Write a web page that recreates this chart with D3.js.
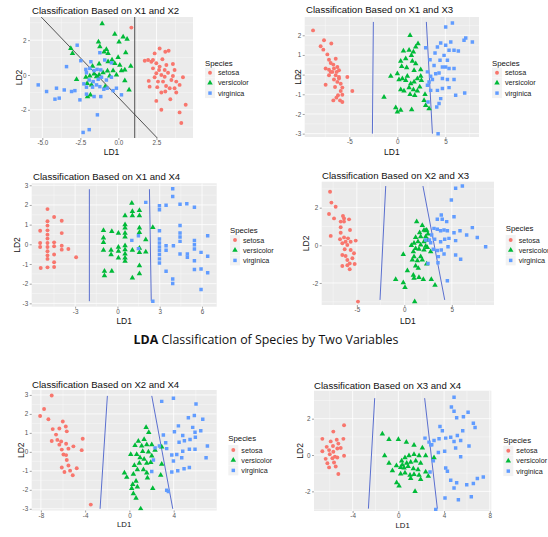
<!DOCTYPE html>
<html>
<head>
<meta charset="utf-8">
<script src="https://cdn.jsdelivr.net/npm/d3@7"></script>
<style>
  html, body { margin: 0; padding: 0; background: #fff; }
  svg { display: block; }
</style>
</head>
<body>
<svg id="chart" width="548" height="537"></svg>
<script>
// ---- Species and colours ----
const species = ["setosa", "versicolor", "virginica"];
const speciesColors = ["#F8766D", "#00BA38", "#619CFF"];

// ---- LD1 / LD2 scores, pair X1 & X2 ----
const p1Setosa = [[0.85,2.72],[2.71,1.52],[3.08,1.33],[3.30,1.39],[2.38,1.24],[2.89,0.90],[1.73,0.82],[1.95,0.86],[2.16,0.76],[2.49,0.67],[3.15,0.57],[3.58,0.63],[2.27,0.38],[2.67,0.29],[3.26,0.13],[3.69,0.29],[2.49,0.10],[2.82,0.0],[3.04,-0.10],[2.38,-0.13],[2.93,-0.38],[2.60,-0.38],[3.48,-0.29],[3.80,-0.38],[4.24,-0.13],[1.99,-0.34],[2.05,-0.67],[3.69,-0.76],[2.82,-1.01],[3.08,-0.95],[3.80,-1.01],[3.41,-1.39],[2.49,-1.49],[2.82,-2.00],[4.02,-2.15],[4.42,-1.71],[4.13,-2.76],[3.58,-0.06],[3.04,0.29],[2.71,0.48],[3.13,-0.63],[4.02,-0.57],[2.27,0.86],[3.37,-0.76],[2.55,-0.70]];
const p1Versicolor = [[-1.07,2.95],[-0.24,2.34],[0.31,2.19],[0.04,1.90],[0.57,2.06],[-1.31,1.90],[-3.13,1.52],[-3.02,1.24],[-1.22,1.62],[-0.79,1.47],[-0.94,1.33],[-0.68,1.24],[0.48,1.28],[-0.02,1.01],[-0.42,0.86],[-0.68,0.76],[-1.27,0.63],[-1.70,0.51],[-0.24,0.67],[0.09,0.57],[0.81,0.51],[0.42,0.29],[0.20,0.25],[-0.72,0.23],[-1.01,0.13],[-1.27,0.0],[-1.60,0.06],[-1.88,-0.06],[-2.14,-0.13],[-2.75,-0.25],[-2.05,-0.48],[-1.77,-0.57],[-2.03,-1.24],[-1.84,-1.14],[0.42,-0.32],[0.70,-0.86],[-0.87,-0.67],[-0.35,0.25],[-0.57,-0.06],[-1.44,-0.10],[-0.13,0.0]];
const p1Virginica = [[-2.71,1.71],[-2.47,0.82],[-3.41,0.48],[-1.81,0.76],[-1.22,1.28],[-2.14,0.32],[-1.88,0.38],[-2.10,0.13],[-1.60,0.25],[-1.40,0.32],[-1.16,0.29],[-0.90,0.86],[-0.46,0.70],[-1.92,-0.29],[-2.27,-0.51],[-1.66,-0.38],[-1.44,-0.57],[-2.10,-0.70],[-1.70,-0.70],[-1.22,-0.67],[-0.96,-0.82],[-0.74,-0.76],[-0.35,-0.90],[-0.13,-0.76],[0.20,-1.14],[-2.10,-1.10],[-1.60,-1.24],[-1.16,-1.24],[-2.53,-1.43],[-3.08,-0.95],[-2.86,-0.90],[-3.56,-0.86],[-4.07,-0.76],[-4.72,-0.95],[-5.27,-0.57],[-4.17,-1.39],[-3.89,-1.33],[-1.38,-2.29],[-1.92,-3.14],[-2.32,-3.30],[-1.11,-0.13],[-0.79,-0.29],[-1.33,-0.25],[-0.46,-0.13]];
const p1Bounds = [[[1.07,3.4],[1.07,-3.7]], [[-5.15,3.4],[2.64,-3.7]]];

// ---- pair X1 & X3 ----
const p2Setosa = [[-8.78,2.25],[-7.64,1.75],[-7.99,1.44],[-7.71,1.27],[-6.88,1.58],[-7.29,1.03],[-7.12,0.76],[-6.42,0.81],[-6.94,0.59],[-6.67,0.51],[-7.47,0.31],[-7.12,0.25],[-6.60,0.31],[-6.25,0.39],[-6.77,0.14],[-6.32,0.14],[-6.08,0.22],[-6.42,-0.03],[-6.08,-0.12],[-5.21,-0.12],[-6.60,-0.25],[-6.25,-0.37],[-7.47,-0.51],[-6.49,-0.63],[-5.73,-0.66],[-5.90,-0.83],[-4.69,-0.83],[-6.18,-1.05],[-6.35,-1.17],[-5.73,-1.02],[-6.67,-1.31],[-5.97,-1.31],[-5.73,-1.39],[-6.94,0.14],[-6.08,-0.20],[-5.90,-0.46],[-7.12,-0.03]];
const p2Versicolor = [[1.32,2.00],[2.15,1.58],[1.91,1.41],[1.67,1.15],[1.22,1.24],[0.63,1.20],[1.46,0.98],[0.87,0.81],[0.35,0.69],[1.56,0.69],[0.45,0.42],[0.97,0.36],[2.43,0.25],[1.74,0.22],[-0.69,-0.08],[0.52,-0.20],[1.04,-0.08],[2.08,-0.20],[2.43,-0.08],[0.17,-0.25],[0.87,-0.29],[1.39,-0.46],[1.74,-0.37],[2.33,-0.63],[0.35,-0.76],[0.69,-0.83],[1.22,-0.66],[1.67,-0.76],[2.08,-0.83],[-1.39,-1.14],[1.32,-1.00],[1.81,-1.05],[2.78,-1.31],[2.88,-1.00],[-0.17,-1.68],[0.35,-1.81],[0.0,-1.90],[1.49,-1.78],[3.30,-1.73],[2.95,-1.56],[2.50,-0.29],[1.91,0.56],[0.0,0.05]];
const p2Virginica = [[2.95,1.37],[3.92,1.10],[3.40,0.76],[3.82,0.47],[4.44,0.73],[5.03,1.49],[5.56,1.66],[5.90,1.24],[6.35,1.20],[5.03,2.42],[5.73,2.63],[6.94,1.75],[7.12,1.86],[7.81,1.66],[4.86,0.98],[5.21,0.73],[4.69,0.39],[5.03,0.39],[5.38,0.31],[5.90,0.31],[3.13,0.14],[3.47,-0.08],[3.99,0.05],[4.34,0.08],[3.30,-0.37],[3.65,-0.25],[4.69,-0.20],[5.21,-0.25],[5.90,-0.25],[4.17,-0.80],[4.69,-0.71],[3.47,-0.80],[5.38,-0.66],[6.07,-1.05],[7.01,-0.93],[4.51,-1.22],[4.34,-1.47],[4.10,-1.64],[4.24,-3.00],[3.19,-1.39],[4.51,1.61],[4.17,1.41],[5.38,1.24],[3.13,-0.54]];
const p2Bounds = [[[-2.50,2.68],[-2.60,-3.00]], [[3.02,2.68],[3.65,-3.00]]];

// ---- pair X1 & X4 ----
const p3Setosa = [[-5.48,0.69],[-5.48,0.07],[-5.48,-0.14],[-5.44,-1.20],[-4.96,1.79],[-4.96,1.17],[-4.96,0.95],[-4.96,0.71],[-4.96,0.49],[-4.96,0.29],[-4.96,0.07],[-4.96,-0.14],[-4.96,-0.35],[-4.96,-0.56],[-4.96,-0.74],[-4.96,-1.17],[-4.49,1.39],[-4.49,0.10],[-4.49,-0.10],[-4.49,-0.52],[-4.49,-0.91],[-4.49,-1.15],[-3.95,1.20],[-3.95,0.57],[-3.95,-0.07],[-3.95,-0.27],[-3.48,-0.24],[-2.93,-0.66]];
const p3Versicolor = [[1.02,2.09],[1.06,1.67],[1.56,1.72],[1.06,1.45],[1.56,1.45],[0.54,1.45],[0.54,1.00],[0.54,0.83],[0.54,0.57],[0.54,0.37],[1.56,0.83],[1.56,0.61],[0.07,0.57],[-0.40,0.66],[-0.99,0.71],[-0.99,0.32],[-0.99,0.10],[-0.99,-0.30],[-0.45,-0.30],[-0.45,-0.52],[0.07,-0.14],[0.07,-0.35],[0.07,-0.69],[0.54,-0.07],[0.54,-0.27],[0.54,-0.49],[0.54,-0.69],[0.54,-0.86],[1.06,-0.30],[1.56,-0.19],[1.56,-0.41],[2.01,0.24],[2.01,-0.39],[2.51,0.86],[1.56,-1.08],[1.56,-1.49],[1.06,-1.71],[-0.92,-1.37],[-0.92,-1.59],[-0.40,-1.37]];
const p3Virginica = [[2.01,2.13],[2.98,1.96],[2.98,1.76],[3.45,1.98],[3.92,2.82],[3.92,2.43],[4.44,2.04],[4.92,2.06],[5.46,1.88],[4.44,0.96],[4.44,0.57],[4.44,0.37],[4.44,0.15],[1.49,0.44],[1.02,0.20],[2.98,0.69],[2.98,0.27],[2.98,0.07],[2.98,-0.14],[2.98,-0.32],[2.98,-0.52],[2.98,-0.74],[2.98,-0.95],[3.45,-0.07],[3.45,-0.30],[3.97,-0.07],[4.44,-0.49],[4.96,-0.49],[4.96,-0.66],[5.46,0.19],[5.46,-0.02],[5.46,-0.24],[5.46,-0.83],[5.46,-1.28],[5.93,-0.41],[5.93,-1.25],[6.40,0.44],[6.40,-0.61],[6.40,-1.45],[3.45,-1.37],[3.92,-1.76],[3.92,-1.99],[5.93,-2.30],[1.49,-0.22],[2.51,-2.89]];
const p3Bounds = [[[-1.99,2.80],[-1.99,-2.89]], [[2.27,2.80],[2.40,-2.89]]];

// ---- pair X2 & X3 ----
const p4Setosa = [[-7.82,2.85],[-7.68,2.27],[-7.23,2.05],[-7.93,1.66],[-7.40,1.43],[-6.46,1.56],[-5.82,1.38],[-6.70,1.26],[-6.35,1.26],[-6.70,0.96],[-7.75,0.50],[-6.70,0.67],[-6.35,0.42],[-5.93,0.37],[-5.12,0.25],[-6.77,0.32],[-6.18,0.19],[-5.65,0.19],[-6.53,0.11],[-6.00,0.02],[-6.28,-0.21],[-5.65,-0.25],[-6.53,-0.51],[-6.18,-0.57],[-5.47,-0.69],[-5.30,-0.42],[-6.00,-0.78],[-5.75,-0.96],[-6.53,-1.10],[-6.00,-1.06],[-5.75,-1.27],[-5.23,-0.99],[-4.88,-2.99],[-6.35,1.43],[-5.72,0.81]];
const p4Versicolor = [[1.30,1.26],[1.89,1.06],[2.25,0.78],[2.07,0.81],[2.35,0.81],[1.61,0.67],[2.49,0.60],[1.19,0.42],[1.72,0.46],[2.25,0.46],[2.49,0.28],[1.44,0.19],[2.07,0.19],[1.02,0.11],[0.74,0.0],[1.72,0.02],[2.25,-0.04],[1.19,-0.16],[1.54,-0.21],[2.07,-0.25],[2.77,-0.34],[0.95,-0.34],[-0.11,-0.48],[1.02,-0.60],[1.72,-0.60],[1.37,-0.81],[0.84,-0.78],[1.89,-0.78],[2.35,-0.99],[1.19,-1.10],[1.47,-1.22],[0.32,-1.35],[0.95,-1.58],[1.54,-1.70],[1.02,-1.75],[-0.91,-1.81],[-0.11,-1.98],[0.07,-2.23],[2.00,-1.81],[2.84,-1.81],[3.23,-2.11],[1.09,-2.99],[2.42,-0.11]];
const p4Virginica = [[5.40,3.03],[6.11,3.15],[4.95,2.41],[3.89,1.61],[3.47,1.38],[3.99,1.38],[4.46,1.26],[5.23,1.52],[3.12,0.90],[3.47,0.85],[3.82,0.78],[4.18,0.81],[4.53,0.78],[5.23,0.67],[5.86,0.78],[7.16,0.94],[2.88,0.55],[3.19,0.32],[2.63,0.28],[3.82,0.19],[4.25,0.32],[4.70,0.37],[5.40,0.25],[6.56,0.55],[7.68,0.42],[8.56,-0.07],[3.05,-0.21],[3.47,-0.28],[3.89,-0.25],[4.60,-0.07],[5.40,-0.51],[5.93,-0.74],[3.58,-0.60],[4.18,-0.46],[4.53,-1.88],[2.49,-0.96],[3.54,-0.92],[2.77,0.14],[2.25,0.28]];
const p4Bounds = [[[-1.96,3.15],[-2.56,-2.90]], [[1.96,3.15],[4.25,-2.90]]];

// ---- pair X2 & X4 ----
const p5Setosa = [[-7.02,2.97],[-7.71,2.26],[-7.32,1.72],[-8.07,1.89],[-6.02,1.60],[-6.33,1.23],[-5.75,1.34],[-6.93,1.20],[-5.66,1.08],[-6.63,0.91],[-4.22,0.69],[-7.02,0.57],[-6.51,0.63],[-6.17,0.55],[-6.33,0.38],[-5.72,0.43],[-5.06,0.29],[-5.51,0.17],[-4.31,0.09],[-6.11,0.12],[-5.96,-0.14],[-5.66,-0.43],[-5.51,-0.72],[-6.11,-0.82],[-5.87,-1.06],[-5.36,-0.99],[-4.76,-0.86],[-5.12,-1.23],[-3.49,-2.78],[-5.72,-0.17]];
const p5Versicolor = [[1.51,1.29],[1.75,1.03],[0.81,0.57],[1.33,0.65],[0.51,0.34],[1.11,0.31],[1.57,0.38],[2.02,0.38],[0.12,-0.14],[0.66,-0.14],[1.20,0.03],[1.72,0.0],[2.02,-0.21],[0.96,-0.31],[1.33,-0.38],[0.90,-0.60],[0.45,-0.72],[1.57,-0.60],[1.93,-0.55],[2.92,-0.65],[0.72,-0.94],[1.27,-0.94],[0.36,-1.17],[1.57,-1.11],[-0.45,-1.11],[-0.24,-1.34],[2.83,-1.23],[0.60,-1.54],[0.30,-1.72],[0.72,-1.85],[0.21,-1.92],[2.11,-1.92],[1.63,-1.37],[0.36,-2.20],[0.60,-2.44],[1.02,-3.00],[2.92,0.26],[2.32,0.09]];
const p5Virginica = [[3.98,2.83],[2.92,2.66],[6.02,2.52],[5.33,1.80],[5.87,1.92],[6.63,1.72],[4.43,1.37],[5.72,1.29],[6.45,1.11],[5.93,1.03],[3.07,0.89],[4.07,1.06],[4.82,0.86],[5.96,0.77],[4.49,0.51],[4.97,0.58],[5.48,0.65],[7.05,0.31],[2.32,0.21],[2.71,0.31],[3.37,0.17],[3.28,0.48],[3.83,-0.17],[4.28,-0.14],[4.82,0.03],[5.42,0.14],[5.93,0.14],[6.93,-0.31],[4.73,-0.31],[3.98,-0.48],[2.17,-0.43],[2.02,-1.03],[3.83,-1.06],[4.37,-0.99],[4.94,-0.89],[5.42,-0.82],[3.37,-2.02],[3.52,-2.09]];
const p5Bounds = [[[-1.99,2.95],[-2.65,-3.00]], [[2.02,2.95],[3.92,-3.00]]];

// ---- pair X3 & X4 ----
const p6Setosa = [[-4.75,1.64],[-5.69,1.29],[-6.65,0.89],[-6.27,0.45],[-5.92,0.75],[-5.39,0.84],[-4.81,0.89],[-5.72,0.50],[-5.25,0.63],[-5.04,0.39],[-6.06,0.27],[-6.65,0.21],[-5.69,0.18],[-5.34,0.36],[-6.00,0.04],[-4.75,-0.04],[-5.55,-0.09],[-5.77,-0.18],[-6.21,-0.45],[-5.34,-0.14],[-5.63,-0.41],[-5.48,-0.63],[-6.06,-0.68],[-5.25,-1.04],[-6.36,-0.21]];
const p6Versicolor = [[-1.40,1.16],[-0.82,0.86],[0.0,0.86],[0.70,0.71],[1.37,0.54],[2.10,0.39],[-1.20,-0.04],[-0.82,-0.45],[-0.52,-0.86],[-0.17,-0.59],[0.29,-0.32],[0.58,-0.14],[0.93,-0.04],[1.37,0.04],[1.81,-0.04],[2.39,-0.04],[0.35,-0.54],[0.73,-0.45],[1.08,-0.39],[1.52,-0.32],[1.95,-0.45],[0.50,-0.71],[0.85,-0.63],[1.31,-0.75],[1.72,-0.80],[0.20,-1.04],[0.58,-0.98],[1.02,-1.11],[1.37,-1.07],[1.81,-1.11],[2.39,-0.93],[2.62,-1.16],[1.08,-1.29],[-0.15,-1.52],[0.06,-1.70],[1.46,-2.00],[1.95,-1.34],[3.12,-0.14],[0.20,-0.68]];
const p6Virginica = [[4.87,3.18],[4.64,2.64],[4.87,2.41],[5.10,2.05],[5.69,2.11],[6.10,2.36],[3.64,1.57],[6.56,1.75],[6.71,1.52],[3.85,1.34],[5.63,1.34],[3.12,0.80],[3.56,0.89],[4.14,0.93],[4.58,0.98],[5.16,1.07],[4.87,0.75],[5.45,0.80],[6.18,0.50],[2.33,0.93],[2.68,0.71],[2.92,0.57],[3.50,0.14],[4.05,0.21],[5.01,0.39],[5.45,-0.09],[3.06,-0.32],[4.14,-0.71],[4.29,-0.89],[4.58,-1.39],[5.10,-1.52],[5.98,-1.64],[6.56,-1.57],[6.91,-1.29],[7.43,-1.21],[4.87,-1.82],[4.08,-2.36],[5.25,-2.46],[6.38,-2.29],[2.77,-0.93],[3.27,-3.00],[2.83,0.57]];
const p6Bounds = [[[-2.07,3.13],[-2.62,-2.95]], [[2.30,3.13],[3.41,-2.95]]];

// ---- Panel titles and tick values ----
const panelTitles = ["Classification Based on X1 and X2", "Classification Based on X1 and X3",
                     "Classification Based on X1 and X4", "Classification Based on X2 and X3",
                     "Classification Based on X2 and X4", "Classification Based on X3 and X4"];
const xTicks = [[-5, -2.5, 0, 2.5], [-5, 0, 5], [-3, 0, 3, 6], [-5, 0, 5], [-8, -4, 0, 4], [-4, 0, 4, 8]];
const yTicks = [[-2, 0, 2], [-3, -2, -1, 0, 1, 2], [-3, -2, -1, 0, 1, 2, 3], [-2, 0, 2], [-3, -2, -1, 0, 1, 2, 3], [-2, 0, 2]];
const mainTitleBold = "LDA";
const mainTitleRest = " Classification of Species by Two Variables";

// ---- Panel layout (plot box in px, axis domains, label anchors) ----
const panels = [
  { data: [p1Setosa, p1Versicolor, p1Virginica], bounds: p1Bounds, boundColor: "#2a2a2a",
    box: [30, 17, 193, 138], xd: [-5.81, 4.90], yd: [-3.62, 3.33], xfmt: ".1f",
    title: [32, 14], ylab: 19, xlab: 155, xlabSize: 8.5, legend: [205, 65.5, 72.7] },
  { data: [p2Setosa, p2Versicolor, p2Virginica], bounds: p2Bounds, boundColor: "#5a6fcf",
    box: [304.7, 17, 479, 137], xd: [-9.65, 8.5], yd: [-3.17, 2.93], xfmt: "d",
    title: [306, 13], ylab: 298, xlab: 155, xlabSize: 8.5, legend: [492, 65.5, 72.7] },
  { data: [p3Setosa, p3Versicolor, p3Virginica], bounds: p3Bounds, boundColor: "#5a6fcf",
    box: [31.7, 183.3, 216.7, 306.7], xd: [-6.08, 7.04], yd: [-3.17, 3.1], xfmt: "d",
    title: [33, 179.5], ylab: 17, xlab: 323.5, xlabSize: 8.5, legend: [230, 233, 240] },
  { data: [p4Setosa, p4Versicolor, p4Virginica], bounds: p4Bounds, boundColor: "#5a6fcf",
    box: [321.7, 181.7, 494, 305], xd: [-8.7, 9.44], yd: [-3.17, 3.38], xfmt: "d",
    title: [322, 179], ylab: 306, xlab: 324, xlabSize: 8.5, legend: [505.7, 230.5, 240] },
  { data: [p5Setosa, p5Versicolor, p5Virginica], bounds: p5Bounds, boundColor: "#5a6fcf",
    box: [31.7, 390, 216.7, 510.5], xd: [-8.83, 7.89], yd: [-3.09, 3.26], xfmt: "d",
    title: [32, 387.5], ylab: 21, xlab: 526.5, xlabSize: 7.8, legend: [228.3, 440.5, 450] },
  { data: [p6Setosa, p6Versicolor, p6Virginica], bounds: p6Bounds, boundColor: "#5a6fcf",
    box: [314, 390.7, 491.3, 511], xd: [-7.38, 8.13], yd: [-3.08, 3.54], xfmt: "d",
    title: [314, 388.5], ylab: 300, xlab: 528, xlabSize: 7.8, legend: [503.3, 443, 450.7] }
];

const svg = d3.select("#chart");
svg.append("rect").attr("width", 548).attr("height", 537).attr("fill", "#fff");

const shapes = [d3.symbolCircle, d3.symbolTriangle, d3.symbolSquare];
const shapeSizes = [12, 13, 12];
const fontR = "'Liberation Sans', Arial, sans-serif";
const dash = s => s.replace("\u2212", "-");

panels.forEach((p, i) => {
  const [x0, y0, x1, y1] = p.box;
  const x = d3.scaleLinear().domain(p.xd).range([x0, x1]);
  const y = d3.scaleLinear().domain(p.yd).range([y1, y0]);
  const g = svg.append("g");
  const clipId = "clip" + i;
  g.append("clipPath").attr("id", clipId)
    .append("rect").attr("x", x0).attr("y", y0).attr("width", x1 - x0).attr("height", y1 - y0);

  // panel background
  g.append("rect").attr("x", x0).attr("y", y0).attr("width", x1 - x0).attr("height", y1 - y0)
    .attr("fill", "#EBEBEB");

  // minor grid lines halfway between major ticks
  const xt = xTicks[i], yt = yTicks[i];
  const minor = (t, dom) => {
    const step = t[1] - t[0];
    const out = [];
    for (let v = t[0] - step / 2; v <= dom[1]; v += step) if (v >= dom[0]) out.push(v);
    return out;
  };
  const grid = g.append("g").attr("clip-path", `url(#${clipId})`);
  minor(xt, p.xd).forEach(v => grid.append("line").attr("x1", x(v)).attr("x2", x(v))
    .attr("y1", y0).attr("y2", y1).attr("stroke", "#fff").attr("stroke-width", 0.35));
  minor(yt, p.yd).forEach(v => grid.append("line").attr("y1", y(v)).attr("y2", y(v))
    .attr("x1", x0).attr("x2", x1).attr("stroke", "#fff").attr("stroke-width", 0.35));
  xt.forEach(v => grid.append("line").attr("x1", x(v)).attr("x2", x(v))
    .attr("y1", y0).attr("y2", y1).attr("stroke", "#fff").attr("stroke-width", 0.8));
  yt.forEach(v => grid.append("line").attr("y1", y(v)).attr("y2", y(v))
    .attr("x1", x0).attr("x2", x1).attr("stroke", "#fff").attr("stroke-width", 0.8));

  // axes
  const fmt = p.xfmt === "d" ? d3.format("d") : d3.format(".1f");
  const xa = g.append("g").attr("transform", `translate(0,${y1})`)
    .call(d3.axisBottom(x).tickValues(xt).tickSize(2).tickPadding(1).tickFormat(v => dash(fmt(v))));
  const ya = g.append("g").attr("transform", `translate(${x0},0)`)
    .call(d3.axisLeft(y).tickValues(yt).tickSize(2).tickPadding(1.5).tickFormat(v => dash(d3.format("d")(v))));
  [xa, ya].forEach(a => {
    a.select(".domain").remove();
    a.selectAll("line").attr("stroke", "#444").attr("stroke-width", 0.5);
    a.selectAll("text").attr("fill", "#555").attr("font-size", "6.3px").attr("font-family", fontR);
  });

  // decision boundaries
  const line = d3.line().x(d => x(d[0])).y(d => y(d[1]));
  const bl = g.append("g").attr("clip-path", `url(#${clipId})`);
  p.bounds.forEach(b => bl.append("path").attr("d", line(b)).attr("fill", "none")
    .attr("stroke", p.boundColor).attr("stroke-width", p.boundColor === "#2a2a2a" ? 0.8 : 1));

  // points
  const pts = g.append("g").attr("clip-path", `url(#${clipId})`);
  p.data.forEach((arr, k) => {
    const sym = d3.symbol().type(shapes[k]).size(shapeSizes[k]);
    pts.selectAll(null).data(arr).join("path")
      .attr("d", sym)
      .attr("transform", d => `translate(${x(d[0])},${y(d[1])})`)
      .attr("fill", speciesColors[k]);
  });

  // titles
  g.append("text").attr("x", p.title[0]).attr("y", p.title[1]).text(panelTitles[i])
    .attr("font-family", fontR).attr("font-size", "9.6px").attr("fill", "#111");
  g.append("text").attr("x", (x0 + x1) / 2).attr("y", p.xlab).attr("text-anchor", "middle")
    .text("LD1").attr("font-family", fontR).attr("font-size", p.xlabSize + "px").attr("fill", "#111");
  g.append("text").attr("transform", `translate(${p.ylab},${(y0 + y1) / 2}) rotate(-90)`)
    .attr("text-anchor", "middle").attr("dy", "0.35em")
    .text("LD2").attr("font-family", fontR).attr("font-size", "8.5px").attr("fill", "#111");

  // legend
  const [lx, ly, ky] = p.legend;
  g.append("text").attr("x", lx).attr("y", ly).text("Species")
    .attr("font-family", fontR).attr("font-size", "7.8px").attr("fill", "#111");
  species.forEach((s, k) => {
    const cy = ky + k * 10.2;
    g.append("rect").attr("x", lx).attr("y", cy - 5).attr("width", 10).attr("height", 10)
      .attr("fill", "#F2F2F2");
    g.append("path").attr("d", d3.symbol().type(shapes[k]).size(shapeSizes[k])())
      .attr("transform", `translate(${lx + 5},${cy})`).attr("fill", speciesColors[k]);
    g.append("text").attr("x", lx + 13).attr("y", cy).attr("dy", "0.35em").text(s)
      .attr("font-family", fontR).attr("font-size", "7.2px").attr("fill", "#222");
  });
});

// overall caption
const cap = svg.append("text").attr("x", 266).attr("y", 344).attr("text-anchor", "middle")
  .attr("font-family", "'Open Sans', sans-serif").attr("font-size", "12.4px").attr("fill", "#111");
cap.append("tspan").attr("font-weight", "bold").text(mainTitleBold);
cap.append("tspan").text(mainTitleRest);
</script>
</body>
</html>
